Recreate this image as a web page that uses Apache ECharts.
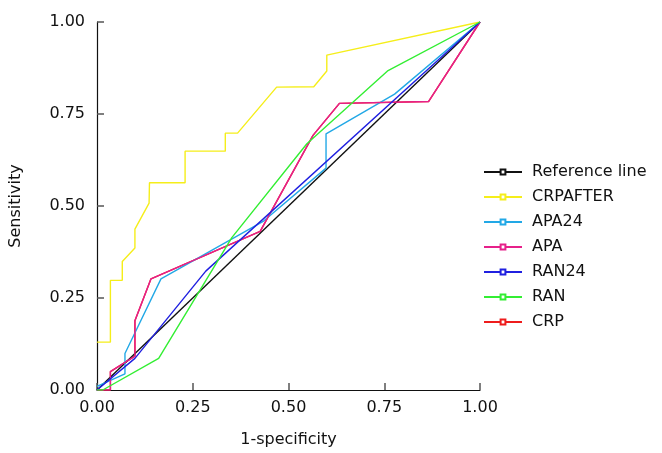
<!DOCTYPE html>
<html>
<head>
<meta charset="utf-8">
<script src="https://cdn.jsdelivr.net/npm/echarts@6/dist/echarts.min.js"></script>
<style>
  html, body { margin: 0; padding: 0; background: #fff; }
  #chart { width: 662px; height: 453px; }
</style>
</head>
<body>
<div id="chart"></div>
<script>
// ROC curves, points are [1-specificity, sensitivity]
const seriesNames = ['Reference line', 'CRPAFTER', 'APA24', 'APA', 'RAN24', 'RAN', 'CRP']
const seriesColors = ['#111111', '#f5ee1a', '#22a8e6', '#e6208a', '#2020e0', '#33ee33', '#ee1c1c']

const refLine = [[0, 0], [1, 1]]
const crpafter = [
  [0, 0.13], [0.035, 0.13], [0.035, 0.298], [0.066, 0.298], [0.066, 0.349],
  [0.099, 0.386], [0.099, 0.437], [0.136, 0.508], [0.137, 0.563], [0.23, 0.563],
  [0.23, 0.649], [0.335, 0.649], [0.335, 0.698], [0.367, 0.698], [0.469, 0.823],
  [0.566, 0.824], [0.6, 0.867], [0.6, 0.91], [1, 1]
]
const apa24 = [
  [0, 0.01], [0.073, 0.044], [0.073, 0.099], [0.167, 0.302], [0.435, 0.459],
  [0.598, 0.603], [0.598, 0.696], [0.777, 0.804], [1, 1]
]
const apa = [
  [0, 0], [0.035, 0], [0.035, 0.05], [0.099, 0.092], [0.099, 0.188], [0.141, 0.302],
  [0.426, 0.431], [0.564, 0.692], [0.633, 0.779], [0.866, 0.784], [1, 1]
]
const ran24 = [[0, 0], [0.099, 0.086], [0.284, 0.323], [1, 1]]
const ran = [
  [0, 0], [0.015, 0], [0.161, 0.086], [0.352, 0.414], [0.548, 0.669], [0.76, 0.868], [1, 1]
]
const crp = [
  [0, 0], [0.035, 0], [0.035, 0.05], [0.099, 0.092], [0.099, 0.188], [0.141, 0.302],
  [0.426, 0.431], [0.564, 0.692], [0.633, 0.779], [0.866, 0.784], [1, 1]
]
const seriesData = [refLine, crpafter, apa24, apa, ran24, ran, crp]
const axisTicks = [0, 0.25, 0.5, 0.75, 1]

const font = 'DejaVu Sans'
const chart = echarts.init(document.getElementById('chart'))

chart.setOption({
  animation: false,
  textStyle: { fontFamily: font },
  grid: {
    left: 94,
    right: 182,
    top: 22,
    bottom: 54
  },
  legend: {
    orient: 'vertical',
    left: 483,
    top: 164,
    padding: 0,
    itemWidth: 38,
    itemHeight: 6,
    itemGap: 9,
    textStyle: { fontFamily: font, fontSize: 16, color: '#111', padding: [0, 0, 0, 5] },
    data: seriesNames
  },
  xAxis: {
    type: 'value',
    min: axisTicks[0],
    max: axisTicks[axisTicks.length - 1],
    interval: 0.25,
    name: '1-specificity',
    nameLocation: 'middle',
    nameGap: 42,
    nameTextStyle: { fontFamily: font, fontSize: 16, color: '#111' },
    axisLine: { lineStyle: { color: '#111', width: 1.2 } },
    axisTick: { inside: true, length: 7, lineStyle: { color: '#555', width: 1.5 } },
    axisLabel: {
      margin: 10,
      fontSize: 16,
      color: '#111',
      formatter: v => v.toFixed(2)
    },
    splitLine: { show: false }
  },
  yAxis: {
    type: 'value',
    min: axisTicks[0],
    max: axisTicks[axisTicks.length - 1],
    interval: 0.25,
    name: 'Sensitivity',
    nameLocation: 'middle',
    nameGap: 73,
    nameTextStyle: { fontFamily: font, fontSize: 16, color: '#111' },
    axisLine: { show: true, lineStyle: { color: '#111', width: 1.2 } },
    axisTick: { show: true, inside: true, length: 7, lineStyle: { color: '#555', width: 1.5 } },
    axisLabel: {
      margin: 12,
      fontSize: 16,
      color: '#111',
      formatter: v => v.toFixed(2)
    },
    splitLine: { show: false }
  },
  series: seriesNames.map((name, i) => ({
    name: name,
    type: 'line',
    data: seriesData[i],
    z: name === 'CRP' ? 1 : 2,
    symbol: 'emptyRect',
    symbolSize: 5,
    showSymbol: false,
    color: seriesColors[i],
    lineStyle: { color: seriesColors[i], width: 1.4 },
    itemStyle: { color: seriesColors[i] }
  }))
})
</script>
</body>
</html>
